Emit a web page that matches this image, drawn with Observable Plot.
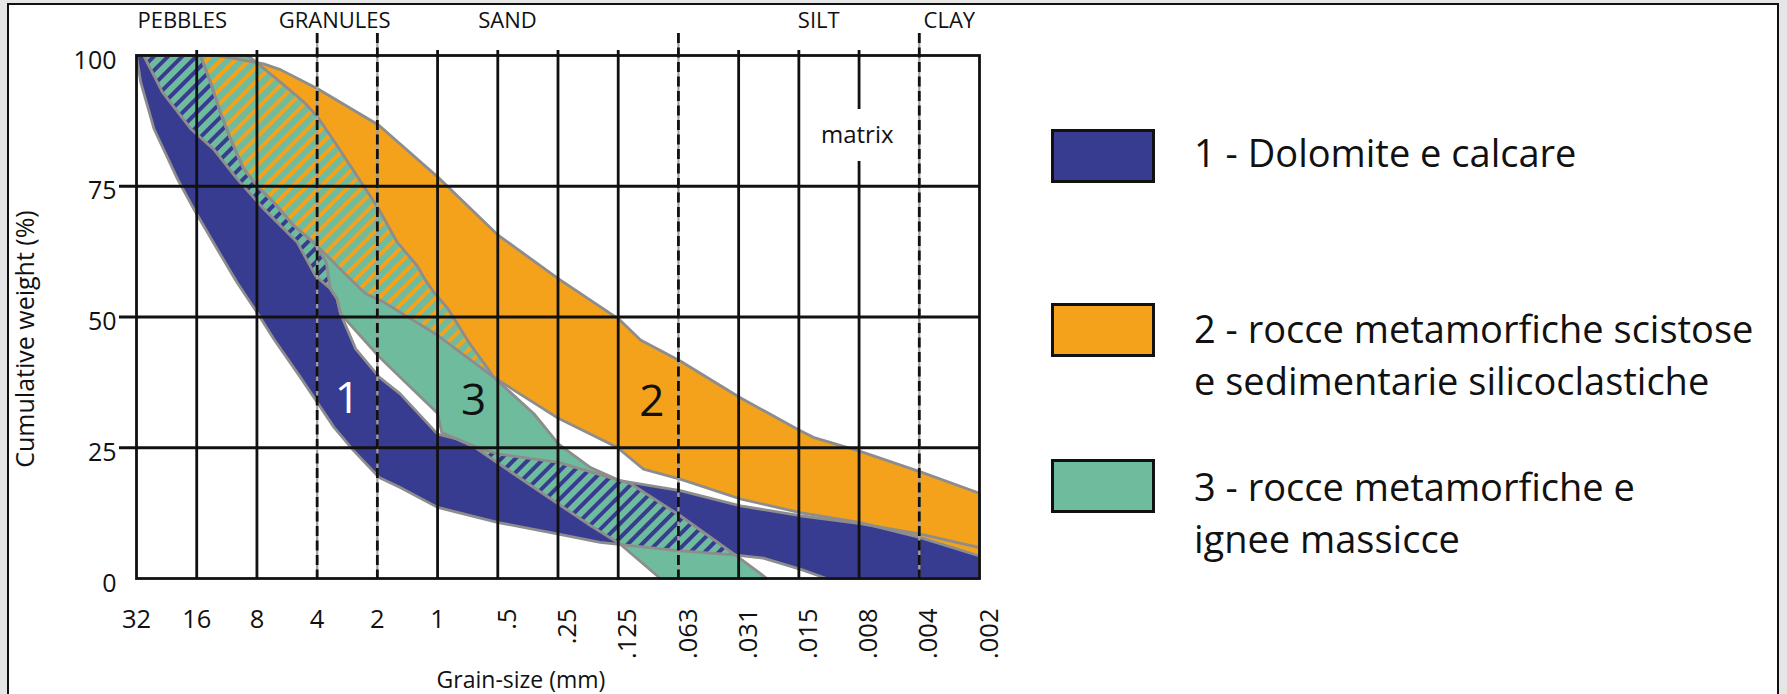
<!DOCTYPE html>
<html><head><meta charset="utf-8">
<script src="https://cdn.jsdelivr.net/npm/d3@7"></script>
<script src="https://cdn.jsdelivr.net/npm/@observablehq/plot@0.6"></script>
<style>
html,body{margin:0;padding:0;}
body{width:1787px;height:694px;background:#e6e6e6;position:relative;overflow:hidden;font-family:"Open Sans",sans-serif;}
#frame{position:absolute;left:7px;top:3px;width:1768px;height:720px;border:2px solid #111;background:#fff;}
#chart{position:absolute;left:0;top:0;}
.sw{position:absolute;left:1051px;width:98px;height:48px;border:3px solid #111;}
.lt{position:absolute;left:1194px;font-size:38px;line-height:52px;color:#111;white-space:nowrap;}
</style></head>
<body>
<svg width="0" height="0" style="position:absolute"><defs>
<pattern id="greenHatch" patternUnits="userSpaceOnUse" width="10" height="10" patternTransform="rotate(45)">
<rect x="0" y="0" width="6" height="10" fill="#6fbb9e"/>
</pattern></defs></svg>
<div id="frame"></div>
<div id="chart"></div>
<div id="legend"></div>
<script>
// ---- Data (x in phi units: one unit per grain-size class, 32 mm = -5 ... .002 mm = 9) ----
const grainLabels = ["32","16","8","4","2","1",".5",".25",".125",".063",".031",".015",".008",".004",".002"];
const phiTicks = [-5,-4,-3,-2,-1,0,1,2,3,4,5,6,7,8,9];
const classBounds = [-2,-1,4,8];                 // dashed: 4 mm, 2 mm, .063 mm, .004 mm
const sizeClasses = ["PEBBLES","GRANULES","SAND","SILT","CLAY"];
const sizeClassPhi = [-4.24,-1.71,1.16,6.33,8.5];
const weightTicks = [0,25,50,75,100];
const innerWeightLines = [25,50,75];

// Band 1 - Dolomite e calcare
const band1Upper = [[-3.94,100],[-3.77,94.9],[-3.61,89.2],[-3.44,84.1],[-3.22,78.3],[-3.0,75.1],[-2.72,71.9],[-2.39,67.5],[-2.06,64.3],[-1.85,60.5],[-1.78,55.4],[-1.67,53.5],[-1.61,50.6],[-1.36,43.9],[-0.97,38.5],[-0.62,35.3],[0.0,27.6],[0.32,26.7],[0.71,24.8],[1.01,23.8],[2.01,22.2],[3.03,18.7],[3.2,18.4],[4.03,16.8],[5.03,13.9],[6.02,12.0],[7.02,10.5],[8.02,8.5],[9,5.9]];
const band1Lower = [[-5,100],[-4.93,94.9],[-4.71,86.0],[-4.32,76.4],[-4.05,70.7],[-3.66,63.0],[-3.33,56.6],[-3.0,50.9],[-2.72,45.8],[-2.28,38.5],[-2.0,33.7],[-1.72,28.9],[-1.39,24.4],[-0.97,19.3],[-0.62,17.4],[0.0,13.6],[1.01,10.7],[2.01,8.5],[2.70,6.9],[4.03,5.3],[4.92,4.5],[5.41,3.9],[6.02,1.8],[6.46,0],[9,0]];
// Band 2 - rocce metamorfiche scistose e sedimentarie silicoclastiche
const band2Upper = [[-3.66,100],[-3.27,99.2],[-2.89,98.4],[-2.61,97.3],[-2.0,93.7],[-0.98,86.7],[0.0,76.8],[1.01,65.6],[2.01,57.3],[3.01,49.6],[3.37,45.6],[4.03,41.6],[5.02,34.6],[6.0,28.4],[6.24,27.0],[7.02,24.3],[8.02,20.4],[9,16.3]];
const band2Lower = [[-3.94,100],[-3.77,94.9],[-3.61,89.2],[-3.44,84.1],[-3.22,78.3],[-3.0,75.1],[-2.72,71.9],[-2.39,67.5],[-2.0,63.6],[-1.56,58.5],[-1.2,54.5],[-0.89,52.8],[0.0,46.5],[0.93,38.5],[1.98,30.8],[2.98,25.1],[3.42,20.9],[4.03,19.0],[5.03,15.2],[6.02,12.6],[7.02,10.7],[8.02,7.8],[9,4.3]];
// Band 3 - rocce metamorfiche e ignee massicce
const band3Upper = [[-3.15,100],[-2.61,94.9],[-2.22,91.1],[-2.0,88.4],[-1.67,82.8],[-1.34,77.0],[-0.98,70.7],[-0.67,64.3],[-0.34,59.8],[-0.2,57.0],[-0.06,54.7],[0.16,51.8],[0.54,44.8],[0.82,40.4],[0.93,38.5],[1.60,31.5],[2.01,25.7],[2.54,21.2],[3.03,18.7],[3.2,18.2],[4.03,12.0],[4.92,4.7],[5.47,0]];
const band3Lower = [[-4.88,100],[-4.57,93.0],[-4.10,86.0],[-3.72,82.1],[-3.33,76.4],[-2.89,70.7],[-2.33,64.3],[-2.03,57.9],[-1.78,55.4],[-1.67,53.5],[-1.61,50.6],[-0.97,42.4],[-0.62,38.5],[0.0,31.6],[0.07,27.9],[0.6,25.2],[1.6,17.4],[2.54,10.1],[3.03,6.6],[3.70,0]];

const bandNames = ["1","2","3"];
const bandLabelPhi = [-1.50, 3.56, 0.60];
const bandLabelWeight = [34.3, 33.7, 34.0];
const bandLabelColor = ["#ffffff","#111111","#111111"];

const legendItems = [
  {color:"#383c91", lines:["1 - Dolomite e calcare"]},
  {color:"#f4a11c", lines:["2 - rocce metamorfiche scistose","e sedimentarie silicoclastiche"]},
  {color:"#6fbb9e", lines:["3 - rocce metamorfiche e","ignee massicce"]}
];

// ---- Build ----
const NAVY = "#383c91", ORANGE = "#f4a11c", GREEN = "#6fbb9e", OUTLINE = "#8d8d8d", INK = "#111";
function polygon(upper, lower) {
  const pts = upper.concat(lower.slice().reverse());
  pts.push(pts[0]);
  return pts.map(([phi, w]) => ({phi, w}));
}
const p1 = polygon(band1Upper, band1Lower);
const p2 = polygon(band2Upper, band2Lower);
const p3 = polygon(band3Upper, band3Lower);
const ticks = phiTicks.map((phi, i) => ({phi, label: grainLabels[i]}));
const hTicks = ticks.filter(d => d.phi <= 0);
const rTicks = ticks.filter(d => d.phi > 0);
const solidV = phiTicks.filter(p => !classBounds.includes(p) && p !== phiTicks[0] && p !== phiTicks[phiTicks.length-1]);
const classes = sizeClasses.map((name, i) => ({name, phi: sizeClassPhi[i]}));
const bandLabels = bandNames.map((t, i) => ({t, phi: bandLabelPhi[i], w: bandLabelWeight[i], c: bandLabelColor[i]}));

const W = 1000, H = 694;
const chart = Plot.plot({
  width: W, height: H,
  marginLeft: 136, marginRight: W - 979, marginTop: 55, marginBottom: H - 578,
  x: {domain: [-5, 9], axis: null},
  y: {domain: [0, 100], axis: null},
  style: {fontFamily: "'Open Sans', sans-serif", background: "transparent", overflow: "visible", color: INK},
  marks: [
    Plot.line(p3, {x: "phi", y: "w", fill: GREEN, stroke: "none"}),
    Plot.line(p1, {x: "phi", y: "w", fill: NAVY, stroke: "none"}),
    Plot.line(p2, {x: "phi", y: "w", fill: ORANGE, stroke: "none"}),
    Plot.line(p3, {x: "phi", y: "w", fill: "url(#greenHatch)", stroke: "none"}),
    Plot.line(p1, {x: "phi", y: "w", stroke: OUTLINE, strokeWidth: 2.8, strokeLinejoin: "round"}),
    Plot.line(p2, {x: "phi", y: "w", stroke: OUTLINE, strokeWidth: 2.8, strokeLinejoin: "round"}),
    Plot.line(p3, {x: "phi", y: "w", stroke: OUTLINE, strokeWidth: 2.8, strokeLinejoin: "round"}),
    Plot.ruleX(solidV, {stroke: INK, strokeWidth: 2.8, insetTop: -5}),
    Plot.ruleY(innerWeightLines, {stroke: INK, strokeWidth: 2.8, insetLeft: -17}),
    Plot.ruleX(classBounds, {stroke: "#a0a0a0", strokeWidth: 2.2, insetTop: -22}),
    Plot.ruleX(classBounds, {stroke: INK, strokeWidth: 2.8, strokeDasharray: "10,4.5", insetTop: -22}),
    Plot.frame({stroke: INK, strokeWidth: 2.8}),
    Plot.text(["matrix"], {x: 6.97, y: 84.7, text: d => d, fontSize: 24, fill: INK, stroke: "white", strokeWidth: 36, paintOrder: "stroke"}),
    Plot.text(bandLabels, {x: "phi", y: "w", text: "t", fill: "c", fontSize: 44}),
    Plot.text(classes, {x: "phi", text: "name", frameAnchor: "top", lineAnchor: "middle", dy: -35, fontSize: 22, fill: INK}),
    Plot.text(weightTicks, {y: d => d, text: d => String(d), frameAnchor: "left", textAnchor: "end", lineAnchor: "middle", dx: -20, dy: 5, fontSize: 25, fill: INK}),
    Plot.text(hTicks, {x: "phi", text: "label", frameAnchor: "bottom", lineAnchor: "middle", dy: 41, fontSize: 25.5, fill: INK}),
    Plot.text(rTicks, {x: "phi", text: "label", frameAnchor: "bottom", rotate: -90, textAnchor: "end", lineAnchor: "middle", dx: 10, dy: 30, fontSize: 25.5, fill: INK}),
    Plot.text(["Grain-size (mm)"], {text: d => d, frameAnchor: "bottom", textAnchor: "middle", lineAnchor: "middle", dx: -37, dy: 102, fontSize: 23, fill: INK}),
    Plot.text(["Cumulative weight (%)"], {text: d => d, frameAnchor: "left", textAnchor: "middle", lineAnchor: "middle", rotate: -90, dx: -111, dy: 22, fontSize: 25, fill: INK})
  ]
});
document.getElementById("chart").appendChild(chart);

// ---- Legend (HTML, to the right of the chart) ----
const legend = document.getElementById("legend");
const boxTops = [129, 303, 459];
const textTops = [126, 302, 460];
const lineGap = 52;
legendItems.forEach((item, i) => {
  const sw = document.createElement("div");
  sw.className = "sw"; sw.style.top = boxTops[i] + "px"; sw.style.background = item.color;
  legend.appendChild(sw);
  item.lines.forEach((line, k) => {
    const t = document.createElement("div");
    t.className = "lt"; t.style.top = (textTops[i] + k * lineGap) + "px";
    t.textContent = line;
    legend.appendChild(t);
  });
});
</script>
</body></html>
